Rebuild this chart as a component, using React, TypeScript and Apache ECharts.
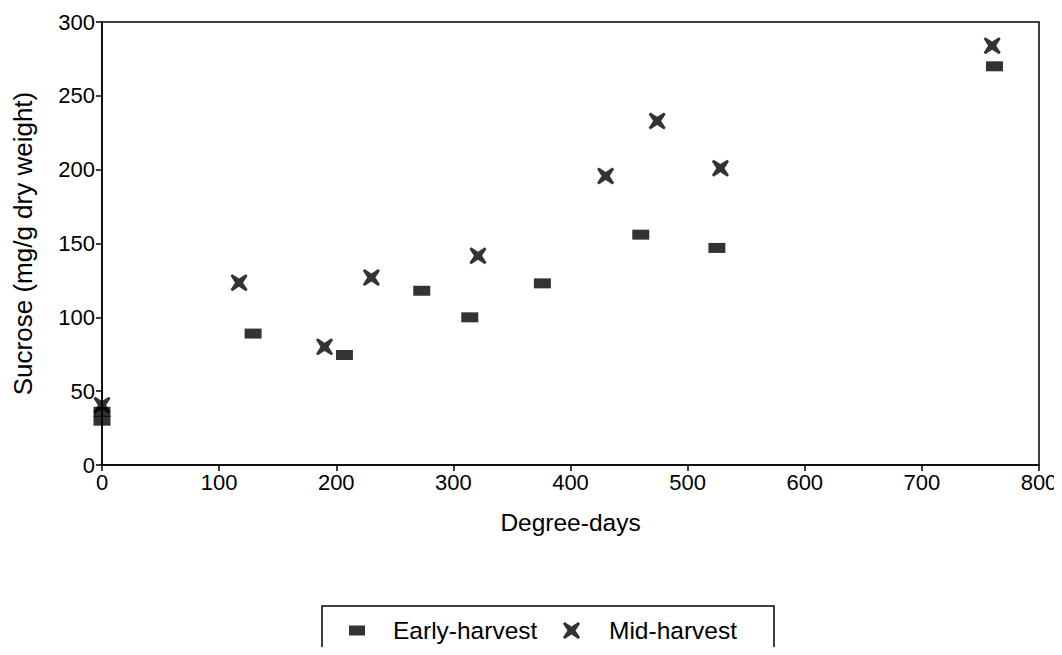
import React, { useEffect, useRef } from "react";
import * as echarts from "echarts";

const earlyX = [0, 0, 129, 207, 273, 314, 376, 460, 525, 762];
const earlyY = [30, 36, 89, 74.5, 118, 100, 123, 156, 147, 270];
const midX = [0, 117, 190, 230, 321, 430, 474, 528, 760];
const midY = [40.5, 123.5, 80, 127, 141.7, 195.7, 233, 201, 284];
const xTicks = { min: 0, max: 800, interval: 100 };
const yTicks = { min: 0, max: 300, interval: 50 };

const FONT = "'Liberation Sans', Arial, Helvetica, sans-serif";
const X_SYMBOL =
  "path://M0,1 L1,0 L5,2.6 L9,0 L10,1 L7.4,5 L10,9 L9,10 L5,7.4 L1,10 L0,9 L2.6,5 Z";

export default function App() {
  const ref = useRef<HTMLDivElement>(null);
  useEffect(() => {
    if (!ref.current) return;
    const chart = echarts.init(ref.current, undefined, { renderer: "svg" });
    const early = earlyX.map((x, i) => [x, earlyY[i]]);
    const mid = midX.map((x, i) => [x, midY[i]]);
    chart.setOption({
      animation: false,
      backgroundColor: "#ffffff",
      textStyle: { fontFamily: FONT, color: "#000" },
      grid: {
        left: 102,
        right: 23,
        top: 22,
        bottom: 190,
        show: true,
        borderColor: "#000",
        borderWidth: 1.5,
      },
      xAxis: {
        type: "value",
        min: xTicks.min,
        max: xTicks.max,
        interval: xTicks.interval,
        name: "Degree-days",
        nameLocation: "middle",
        nameGap: 45,
        nameTextStyle: { fontSize: 24.5, color: "#000", fontFamily: FONT },
        axisLine: { show: true, lineStyle: { color: "#000", width: 1.5 } },
        axisTick: { show: true, inside: false, length: 6, lineStyle: { color: "#000", width: 1.5 } },
        axisLabel: { fontSize: 22, color: "#000", margin: 6, fontFamily: FONT },
        splitLine: { show: false },
      },
      yAxis: {
        type: "value",
        min: yTicks.min,
        max: yTicks.max,
        interval: yTicks.interval,
        name: "Sucrose (mg/g dry weight)",
        nameLocation: "middle",
        nameGap: 66,
        nameTextStyle: { fontSize: 26, color: "#000", fontFamily: FONT },
        axisLine: { show: true, lineStyle: { color: "#000", width: 1.5 } },
        axisTick: { show: true, inside: false, length: 6, lineStyle: { color: "#000", width: 1.5 } },
        axisLabel: { fontSize: 22, color: "#000", margin: 7, fontFamily: FONT },
        splitLine: { show: false },
      },
      legend: [
        {
          data: [{ name: "Early-harvest", icon: "rect" }],
          left: 349,
          top: 618,
          padding: 0,
          itemWidth: 16,
          itemHeight: 10,
          textStyle: { fontSize: 24.5, color: "#000", fontFamily: FONT, padding: [0, 0, 0, 23] },
        },
        {
          data: [{ name: "Mid-harvest", icon: X_SYMBOL }],
          left: 563,
          top: 618,
          padding: 0,
          itemWidth: 17,
          itemHeight: 17,
          textStyle: { fontSize: 24.5, color: "#000", fontFamily: FONT, padding: [0, 0, 0, 24] },
        },
      ],
      graphic: [
        {
          type: "rect",
          shape: { x: 322, y: 606, width: 452, height: 80 },
          style: { fill: "none", stroke: "#000", lineWidth: 1.5 },
          silent: true,
        },
      ],
      series: [
        {
          name: "Early-harvest",
          type: "scatter",
          data: early,
          symbol: "rect",
          symbolSize: [17, 10],
          itemStyle: { color: "#000" },
          z: 3,
        },
        {
          name: "Mid-harvest",
          type: "scatter",
          data: mid,
          symbol: X_SYMBOL,
          symbolSize: 17,
          itemStyle: { color: "#000" },
          z: 4,
        },
      ],
    });
    return () => chart.dispose();
  }, []);
  return <div ref={ref} style={{ width: 1062, height: 655, margin: -8 }} />;
}
